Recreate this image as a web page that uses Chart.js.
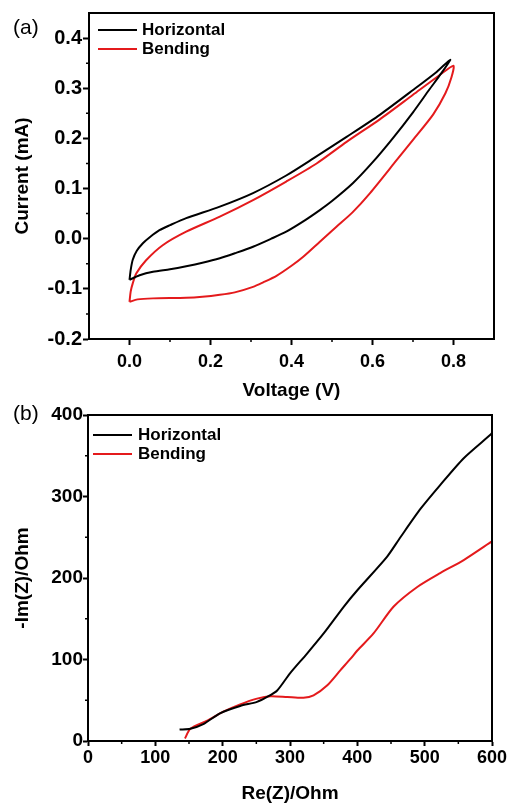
<!DOCTYPE html>
<html lang="en">
<head>
  <meta charset="UTF-8">
  <title>CV and EIS, horizontal vs bending</title>
  <script src="https://cdn.jsdelivr.net/npm/chart.js"></script>
  <style>
    body { margin: 0; background: #fff; }
    #wrap { position: relative; width: 509px; height: 803px; }
    canvas { position: absolute; left: 0; }
    #cvChart { top: 0; }
    #eisChart { top: 400px; }
    .panel { position: absolute; left: 13px; font: 21px "Liberation Sans", Arial, sans-serif; color: #000; }
  </style>
</head>
<body>
<div id="wrap">
  <canvas id="cvChart" width="509" height="400"></canvas>
  <canvas id="eisChart" width="509" height="403"></canvas>
  <div class="panel" style="top:15px">(a)</div>
  <div class="panel" style="top:401px">(b)</div>
</div>

<script>
  // (a) cyclic voltammetry, one closed loop per state
  const seriesLabels = ['Horizontal', 'Bending'];
  const seriesColors = ['#000000', '#e41a1c'];

  const cvHorizontalV = [0.000, 0.003, 0.008, 0.018, 0.033, 0.050, 0.074, 0.100, 0.140, 0.223, 0.305, 0.387, 0.454, 0.536, 0.618, 0.701, 0.759, 0.792,
                         0.770, 0.740, 0.700, 0.650, 0.600, 0.552, 0.500, 0.470, 0.430, 0.387, 0.350, 0.305, 0.260, 0.223, 0.180, 0.140, 0.100, 0.058, 0.025, 0.000];
  const cvHorizontalI = [-0.082, -0.062, -0.042, -0.024, -0.009, 0.003, 0.017, 0.027, 0.041, 0.064, 0.091, 0.126, 0.160, 0.203, 0.247, 0.297, 0.333, 0.357,
                         0.330, 0.297, 0.252, 0.200, 0.152, 0.111, 0.075, 0.057, 0.035, 0.014, 0.000, -0.016, -0.029, -0.039, -0.048, -0.055, -0.061, -0.066, -0.073, -0.082];

  const cvBendingV = [0.000, 0.003, 0.008, 0.017, 0.041, 0.082, 0.140, 0.223, 0.305, 0.387, 0.462, 0.536, 0.618, 0.700, 0.767, 0.800,
                      0.795, 0.780, 0.750, 0.700, 0.660, 0.594, 0.550, 0.511, 0.470, 0.429, 0.400, 0.363, 0.330, 0.305, 0.260, 0.223, 0.180, 0.140, 0.058, 0.020, 0.000];
  const cvBendingI = [-0.126, -0.105, -0.089, -0.069, -0.043, -0.013, 0.014, 0.044, 0.077, 0.114, 0.150, 0.193, 0.238, 0.287, 0.327, 0.345,
                      0.322, 0.290, 0.248, 0.197, 0.157, 0.091, 0.052, 0.024, -0.006, -0.036, -0.054, -0.074, -0.087, -0.096, -0.107, -0.112, -0.116, -0.118, -0.119, -0.121, -0.126];

  const cvXTicks = [0.0, 0.2, 0.4, 0.6, 0.8];
  const cvXMinor = [0.1, 0.3, 0.5, 0.7];
  const cvYTicks = [-0.2, -0.1, 0.0, 0.1, 0.2, 0.3, 0.4];
  const cvYMinor = [-0.15, -0.05, 0.05, 0.15, 0.25, 0.35];

  // (b) Nyquist plot
  const eisHorizontalRe = [136, 152, 172, 196, 226, 251, 266, 281, 300, 325, 350, 380, 400, 444, 464, 494, 523, 558, 598, 600];
  const eisHorizontalIm = [14, 15, 21, 34, 43, 48, 54, 62, 83, 107, 132, 165, 185, 226, 250, 285, 314, 347, 376, 378];

  const eisBendingRe = [144, 152, 177, 201, 226, 251, 271, 296, 320, 335, 355, 375, 390, 400, 424, 454, 489, 523, 558, 600];
  const eisBendingIm = [3, 15, 25, 36, 45, 52, 55, 54, 53, 56, 68, 87, 101, 111, 132, 165, 189, 206, 222, 245];

  const eisXTicks = [0, 100, 200, 300, 400, 500, 600];
  const eisXMinor = [50, 150, 250, 350, 450, 550];
  const eisYTicks = [0, 100, 200, 300, 400];
  const eisYMinor = [50, 150, 250, 350];

  const FONT = '"Liberation Sans", Arial, sans-serif';

  const toPoints = (xs, ys) => xs.map((x, i) => ({ x: x, y: ys[i] }));

  // box around the plot area
  const framePlugin = {
    id: 'frame',
    afterDraw(chart) {
      const { ctx, chartArea: a } = chart;
      ctx.save();
      ctx.strokeStyle = '#000';
      ctx.lineWidth = 2;
      ctx.strokeRect(a.left, a.top, a.right - a.left, a.bottom - a.top);
      ctx.restore();
    }
  };

  // short unlabelled ticks between the major ones
  const minorTickPlugin = {
    id: 'minorTicks',
    afterDraw(chart, args, opts) {
      const { ctx, chartArea: a, scales } = chart;
      ctx.save();
      ctx.strokeStyle = '#000';
      ctx.lineWidth = 1.5;
      ctx.beginPath();
      opts.x.forEach(v => {
        const px = scales.x.getPixelForValue(v);
        ctx.moveTo(px, a.bottom);
        ctx.lineTo(px, a.bottom + opts.len);
      });
      opts.y.forEach(v => {
        const py = scales.y.getPixelForValue(v);
        ctx.moveTo(a.left, py);
        ctx.lineTo(a.left - opts.len, py);
      });
      ctx.stroke();
      ctx.restore();
    }
  };

  // legend drawn inside the plot, top left
  const insetLegendPlugin = {
    id: 'insetLegend',
    afterDraw(chart, args, o) {
      const { ctx, chartArea: a } = chart;
      ctx.save();
      ctx.font = 'bold 17px ' + FONT;
      ctx.textBaseline = 'middle';
      chart.data.datasets.forEach((ds, i) => {
        const x = a.left + o.left;
        const y = a.top + o.top + i * o.gap;
        ctx.strokeStyle = ds.borderColor;
        ctx.lineWidth = 2;
        ctx.beginPath();
        ctx.moveTo(x, y);
        ctx.lineTo(x + o.lineLen, y);
        ctx.stroke();
        ctx.fillStyle = '#000';
        ctx.fillText(ds.label, x + o.lineLen + o.textGap, y);
      });
      ctx.restore();
    }
  };

  const makeDataset = (i, xs, ys) => ({
    label: seriesLabels[i],
    data: toPoints(xs, ys),
    showLine: true,
    borderColor: seriesColors[i],
    backgroundColor: seriesColors[i],
    borderWidth: 2,
    pointRadius: 0,
    tension: 0.25
  });

  const makeAxis = (cfg) => ({
    type: 'linear',
    min: cfg.min,
    max: cfg.max,
    afterBuildTicks: s => { s.ticks = cfg.ticks.map(v => ({ value: v })); },
    afterFit: s => {
      if (cfg.width) s.width = cfg.width;
      if (cfg.height) s.height = cfg.height;
      s.paddingLeft = 0; s.paddingRight = 0; s.paddingTop = 0; s.paddingBottom = 0;
    },
    grid: { drawOnChartArea: false, drawTicks: true, tickLength: cfg.tickLength, tickWidth: 2, tickColor: '#000' },
    border: { display: true, color: '#000', width: 2 },
    ticks: {
      color: '#000',
      padding: cfg.tickPadding,
      font: { family: FONT, size: cfg.tickSize, weight: 'bold' },
      callback: cfg.format
    },
    title: {
      display: true,
      text: cfg.title,
      color: '#000',
      padding: cfg.titlePadding,
      font: { family: FONT, size: 19, weight: 'bold', lineHeight: 1 }
    }
  });

  const makeChart = (id, datasets, x, y, pad, minor, legend) => {
    new Chart(document.getElementById(id), {
      type: 'scatter',
      data: { datasets: datasets },
      options: {
        responsive: false,
        animation: false,
        layout: { padding: pad },
        plugins: {
          legend: { display: false },
          tooltip: { enabled: false },
          minorTicks: minor,
          insetLegend: legend
        },
        scales: { x: makeAxis(x), y: makeAxis(y) }
      },
      plugins: [minorTickPlugin, framePlugin, insetLegendPlugin]
    });
  };

  makeChart('cvChart',
    [makeDataset(0, cvHorizontalV, cvHorizontalI), makeDataset(1, cvBendingV, cvBendingI)],
    { min: -0.1, max: 0.9, ticks: cvXTicks, height: 61, tickLength: 6, tickPadding: 6, tickSize: 18, title: 'Voltage (V)',
      titlePadding: { top: 0, bottom: 0 }, format: v => v.toFixed(1) },
    { min: -0.2, max: 0.45, ticks: cvYTicks, width: 89, tickLength: 6, tickPadding: 1, tickSize: 20, title: 'Current (mA)',
      titlePadding: { top: 13, bottom: 0 }, format: v => v.toFixed(1) },
    { top: 13, right: 15, left: 0, bottom: 0 },
    { x: cvXMinor, y: cvYMinor, len: 3 },
    { left: 9, top: 17, gap: 19, lineLen: 39, textGap: 5 });

  makeChart('eisChart',
    [makeDataset(0, eisHorizontalRe, eisHorizontalIm), makeDataset(1, eisBendingRe, eisBendingIm)],
    { min: 0, max: 600, ticks: eisXTicks, height: 62, tickLength: 5, tickPadding: 1, tickSize: 18, title: 'Re(Z)/Ohm',
      titlePadding: { top: 0, bottom: 0 }, format: v => String(v) },
    { min: 0, max: 400, ticks: eisYTicks, width: 88, tickLength: 5, tickPadding: 0, tickSize: 19, title: '-Im(Z)/Ohm',
      titlePadding: { top: 13, bottom: 0 }, format: v => String(v) },
    { top: 15, right: 17, left: 0, bottom: 0 },
    { x: eisXMinor, y: eisYMinor, len: 3 },
    { left: 5, top: 20, gap: 19, lineLen: 39, textGap: 6 });
</script>
</body>
</html>
